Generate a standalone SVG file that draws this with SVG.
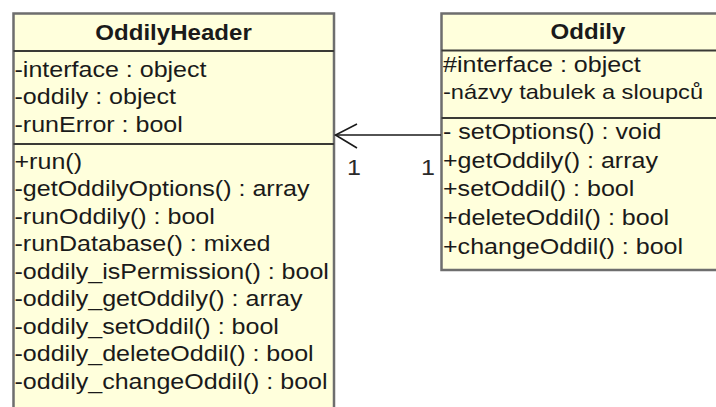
<svg xmlns="http://www.w3.org/2000/svg" width="716" height="407" viewBox="0 0 716 407">
  <style>
    .box { fill: #ffffdc; stroke: #6e6e6e; stroke-width: 2.5; }
    .sep { stroke: #3a3a36; stroke-width: 2; }
    .t { font-family: "Liberation Sans", Arial, sans-serif; font-size: 21.5px; fill: #1a1a1a; }
    .narrow { font-size: 20.3px; }
    .title { font-weight: bold; text-anchor: middle; }
    .conn { stroke: #1a1a1a; stroke-width: 1.6; fill: none; }
    .mult { font-family: "Liberation Sans", Arial, sans-serif; font-size: 21.5px; fill: #2a2a2a; }
  </style>

  <!-- class OddilyHeader -->
  <g id="OddilyHeader">
    <path class="box" d="M13.5 410 V13.5 H334 V410"/>
    <line class="sep" x1="13.5" y1="51" x2="334" y2="51"/>
    <line class="sep" x1="13.5" y1="144" x2="334" y2="144"/>
    <g transform="translate(173.5 0) scale(1.12 1)">
      <text class="t title" x="0" y="40">OddilyHeader</text>
    </g>
    <g transform="translate(14.5 0) scale(1.165 1)">
      <text class="t" x="0" y="77">-interface : object</text>
      <text class="t" x="0" y="104.5">-oddily : object</text>
      <text class="t" x="0" y="132">-runError : bool</text>
      <text class="t" x="0" y="169">+run()</text>
      <text class="t" x="0" y="196.5">-getOddilyOptions() : array</text>
      <text class="t" x="0" y="224">-runOddily() : bool</text>
      <text class="t" x="0" y="251.5">-runDatabase() : mixed</text>
      <text class="t" x="0" y="279">-oddily_isPermission() : bool</text>
      <text class="t" x="0" y="306.5">-oddily_getOddily() : array</text>
      <text class="t" x="0" y="334">-oddily_setOddil() : bool</text>
      <text class="t" x="0" y="361.5">-oddily_deleteOddil() : bool</text>
      <text class="t" x="0" y="389">-oddily_changeOddil() : bool</text>
    </g>
  </g>

  <!-- class Oddily -->
  <g id="Oddily">
    <path class="box" d="M725 13.5 H441.5 V270 H725"/>
    <line class="sep" x1="441.5" y1="50.5" x2="725" y2="50.5"/>
    <line class="sep" x1="441.5" y1="118" x2="725" y2="118"/>
    <g transform="translate(588 0) scale(1.12 1)">
      <text class="t title" x="0" y="39">Oddily</text>
    </g>
    <g transform="translate(443 0) scale(1.165 1)">
      <text class="t" x="0" y="72">#interface : object</text>
      <text class="t narrow" x="0" y="99.5">-názvy tabulek a sloupců</text>
      <text class="t" x="0" y="139.5">- setOptions() : void</text>
      <text class="t" x="0" y="168">+getOddily() : array</text>
      <text class="t" x="0" y="196.5">+setOddil() : bool</text>
      <text class="t" x="0" y="225">+deleteOddil() : bool</text>
      <text class="t" x="0" y="254">+changeOddil() : bool</text>
    </g>
  </g>

  <!-- association Oddily -> OddilyHeader -->
  <g id="connectors">
    <line class="conn" x1="441" y1="135" x2="335.5" y2="135"/>
    <polyline class="conn" points="357,124 335.5,135 357,148"/>
    <g transform="translate(347 0) scale(1.165 1)">
      <text class="mult" x="0" y="175">1</text>
    </g>
    <g transform="translate(421 0) scale(1.165 1)">
      <text class="mult" x="0" y="175">1</text>
    </g>
  </g>
</svg>
